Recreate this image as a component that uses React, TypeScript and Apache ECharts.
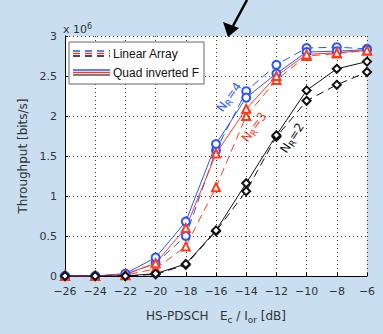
import React, { useEffect, useRef } from "react";
import * as echarts from "echarts";

const xCategories = [-26, -24, -22, -20, -18, -16, -14, -12, -10, -8, -6];
const quadNR4 = [0, 0, 0.03, 0.23, 0.68, 1.65, 2.23, 2.53, 2.8, 2.81, 2.83];
const linearNR4 = [0, 0, 0.02, 0.16, 0.5, 1.57, 2.31, 2.64, 2.85, 2.86, 2.84];
const quadNR3 = [0, 0, 0.02, 0.16, 0.6, 1.53, 2.09, 2.5, 2.77, 2.79, 2.82];
const linearNR3 = [0, 0, 0.01, 0.09, 0.37, 1.11, 2.0, 2.45, 2.75, 2.78, 2.82];
const quadNR2 = [0, 0, 0, 0.03, 0.15, 0.57, 1.16, 1.76, 2.32, 2.59, 2.68];
const linearNR2 = [0, 0, 0, 0.02, 0.14, 0.56, 1.06, 1.74, 2.19, 2.39, 2.55];
const yTicks = [0, 0.5, 1, 1.5, 2, 2.5, 3];

const BLUE = "#2a55ff";
const RED = "#ff3b1c";
const BLACK = "#111111";
const FONT = "DejaVu Sans";

const fmtMinus = (v: number) => (v < 0 ? "\u2212" + Math.abs(v) : String(v));

export default function App() {
  const ref = useRef<HTMLDivElement>(null);
  useEffect(() => {
    if (!ref.current) return;
    const chart = echarts.init(ref.current, undefined, { renderer: "svg" });
    const mk = (
      name: string,
      data: number[],
      color: string,
      dashed: boolean,
      symbol: string,
      size: number
    ) => ({
      name,
      type: "line",
      data: xCategories.map((x, i) => [x, data[i]]),
      symbol,
      symbolSize: size,
      lineStyle: { color, width: 1, type: dashed ? [8, 5] : "solid" },
      itemStyle: { color, borderColor: color, borderWidth: 1 },
      z: dashed ? 3 : 4,
    });
    const annot = (text: string, x: number, y: number, deg: number, color: string) => ({
      type: "text",
      x,
      y,
      rotation: (deg * Math.PI) / 180,
      style: {
        text,
        fill: color,
        fontSize: 12,
        fontFamily: FONT,
        align: "center",
        verticalAlign: "middle",
        rich: {
          sub: { fontSize: 9, fill: color, padding: [7, 0, 0, 0], fontFamily: FONT },
          n: { fontSize: 12, fill: color, fontFamily: FONT },
        },
      },
    });
    chart.setOption({
      animation: false,
      backgroundColor: "#c9def0",
      grid: { left: 65, right: 16, top: 36, bottom: 58, backgroundColor: "#ffffff", show: true, borderWidth: 0 },
      xAxis: {
        type: "value",
        min: -26,
        max: -6,
        interval: 2,
        name: "HS-PDSCH   E{sub|c} / I{sub|or} [dB]",
        nameLocation: "middle",
        nameGap: 31,
        nameTextStyle: {
          color: "#333",
          fontSize: 12,
          fontFamily: FONT,
          rich: { sub: { fontSize: 9, color: "#333", padding: [8, 0, 0, 0], fontFamily: FONT } },
        },
        axisLine: { lineStyle: { color: "#000", width: 1 } },
        axisTick: { inside: true, length: 3, lineStyle: { color: "#000" } },
        axisLabel: { color: "#333", fontSize: 11, fontFamily: FONT, formatter: fmtMinus, margin: 10 },
        splitLine: { show: true, lineStyle: { color: "#333", type: [1, 3], width: 1 } },
      },
      yAxis: {
        type: "value",
        min: 0,
        max: 3,
        interval: 0.5,
        name: "Throughput [bits/s]",
        nameLocation: "middle",
        nameGap: 32,
        nameTextStyle: { color: "#333", fontSize: 12, fontFamily: FONT },
        axisLine: { show: true, lineStyle: { color: "#000", width: 1 } },
        axisTick: { show: true, inside: true, length: 3, lineStyle: { color: "#000" } },
        axisLabel: {
          color: "#333",
          fontSize: 11,
          fontFamily: FONT,
          margin: 8,
          formatter: (v: number) => (yTicks.includes(v) ? String(v) : ""),
        },
        splitLine: { show: true, lineStyle: { color: "#333", type: [1, 3], width: 1 } },
      },
      series: [
        mk("Linear NR=4", linearNR4, BLUE, true, "emptyCircle", 8),
        mk("Quad NR=4", quadNR4, BLUE, false, "emptyCircle", 8),
        mk("Linear NR=3", linearNR3, RED, true, "emptyTriangle", 8),
        mk("Quad NR=3", quadNR3, RED, false, "emptyTriangle", 8),
        mk("Linear NR=2", linearNR2, BLACK, true, "emptyDiamond", 8),
        mk("Quad NR=2", quadNR2, BLACK, false, "emptyDiamond", 8),
      ],
      graphic: [
        {
          type: "text",
          x: 63,
          y: 22,
          style: {
            text: "x 10{sup|6}",
            fill: "#333",
            fontSize: 11,
            fontFamily: FONT,
            rich: { sup: { fontSize: 8, fill: "#333", padding: [0, 0, 6, 0], fontFamily: FONT } },
          },
        },
        // legend box
        {
          type: "rect",
          shape: { x: 69, y: 42, width: 135, height: 42 },
          style: { fill: "#ffffff", stroke: "#666", lineWidth: 1 },
          z: 10,
        },
        { type: "line", shape: { x1: 73, y1: 51, x2: 110, y2: 51 }, style: { stroke: BLUE, lineWidth: 1.3, lineDash: [7, 5] }, z: 11 },
        { type: "line", shape: { x1: 73, y1: 53.5, x2: 110, y2: 53.5 }, style: { stroke: RED, lineWidth: 1.3, lineDash: [7, 5] }, z: 11 },
        { type: "line", shape: { x1: 73, y1: 56, x2: 110, y2: 56 }, style: { stroke: BLACK, lineWidth: 1.3, lineDash: [7, 5] }, z: 11 },
        {
          type: "text",
          x: 113,
          y: 53.5,
          style: { text: "Linear Array", fill: "#111", fontSize: 12, fontFamily: "Liberation Sans", verticalAlign: "middle" },
          z: 11,
        },
        { type: "line", shape: { x1: 73, y1: 70, x2: 110, y2: 70 }, style: { stroke: BLUE, lineWidth: 1.3 }, z: 11 },
        { type: "line", shape: { x1: 73, y1: 72.5, x2: 110, y2: 72.5 }, style: { stroke: RED, lineWidth: 1.3 }, z: 11 },
        { type: "line", shape: { x1: 73, y1: 75, x2: 110, y2: 75 }, style: { stroke: "#555", lineWidth: 1.3 }, z: 11 },
        {
          type: "text",
          x: 113,
          y: 72.5,
          style: { text: "Quad inverted F", fill: "#111", fontSize: 12, fontFamily: "Liberation Sans", verticalAlign: "middle" },
          z: 11,
        },
        // arrow
        { type: "line", shape: { x1: 247, y1: 0, x2: 233, y2: 26 }, style: { stroke: "#000", lineWidth: 2.5 }, z: 12 },
        { type: "polygon", shape: { points: [[223, 22], [239, 28], [228, 37]] }, style: { fill: "#000" }, z: 12 },
        // annotations
        annot("{n|N}{sub|R}{n|=4}", 229, 97, 54, BLUE),
        annot("{n|N}{sub|R}{n|=3}", 254, 127, 54, RED),
        annot("{n|N}{sub|R}{n|=2}", 292, 138, 57, BLACK),
      ],
    });
    return () => chart.dispose();
  }, []);
  return <div ref={ref} style={{ width: 383, height: 334, position: "absolute", left: 0, top: 0 }} />;
}
